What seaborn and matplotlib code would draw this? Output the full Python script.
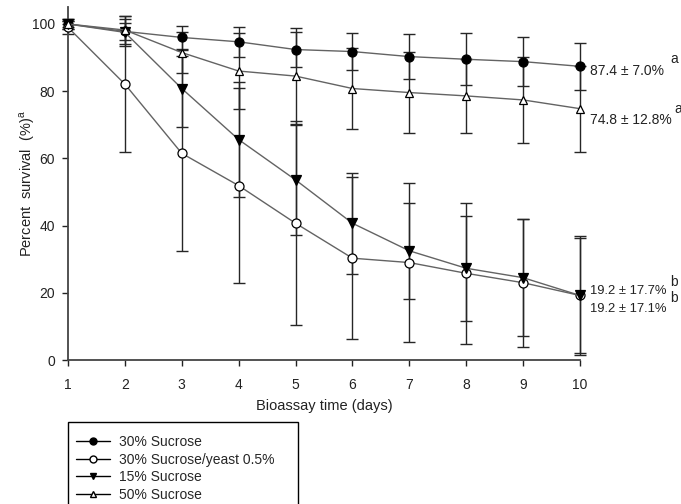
import matplotlib
matplotlib.use("Agg")
import matplotlib.pyplot as plt
from matplotlib.lines import Line2D
from matplotlib.patches import Rectangle
import seaborn as sns
import pandas as pd

days = [1, 2, 3, 4, 5, 6, 7, 8, 9, 10]

series_names = ["30% Sucrose", "30% Sucrose/yeast 0.5%", "15% Sucrose", "50% Sucrose"]

suc30 = [100.0, 97.8, 96.0, 94.7, 92.4, 91.8, 90.3, 89.5, 88.8, 87.4]
suc30_err = [1.0, 2.6, 3.5, 4.5, 5.3, 5.5, 6.8, 7.7, 7.2, 7.0]

yeast = [99.0, 82.1, 61.5, 51.9, 40.7, 30.3, 29.0, 25.8, 23.0, 19.2]
yeast_err = [2.0, 20.2, 29.1, 29.1, 30.3, 24.1, 23.7, 20.9, 19.0, 17.1]

suc15 = [100.0, 97.5, 80.8, 65.6, 53.6, 40.7, 32.5, 27.3, 24.5, 19.2]
suc15_err = [1.5, 4.0, 11.4, 17.0, 16.4, 15.1, 14.3, 15.7, 17.4, 17.7]

suc50 = [100.0, 98.2, 91.5, 86.0, 84.5, 80.8, 79.6, 78.6, 77.4, 74.8]
suc50_err = [1.4, 4.2, 6.0, 11.4, 14.4, 12.0, 12.1, 11.1, 12.9, 12.8]

end_labels = ["87.4 ± 7.0%", "74.8 ± 12.8%", "19.2 ± 17.7%", "19.2 ± 17.1%"]
end_letters = ["a", "a", "b", "b"]

y_ticks = [0, 20, 40, 60, 80, 100]

sns.set_style("ticks")
plt.rcParams["font.family"] = ["Liberation Sans", "DejaVu Sans"]
plt.rcParams["mathtext.fontset"] = "custom"
plt.rcParams["mathtext.rm"] = "Liberation Sans"

fig = plt.figure(figsize=(6.81, 5.04), dpi=100)
ax = fig.add_axes([68 / 681, 1 - 360 / 504, 512 / 681, (360 - 7.2) / 504])

values = [suc30, yeast, suc15, suc50]
errors = [suc30_err, yeast_err, suc15_err, suc50_err]
markers = ["o", "o", "v", "^"]
faces = ["black", "white", "black", "white"]
msizes = [6.5, 6.5, 6.5, 6.0]

rows = []
for name, vals in zip(series_names, values):
    for d, v in zip(days, vals):
        rows.append({"series": name, "day": d, "value": v})
df = pd.DataFrame(rows)

# error bars
for vals, errs in zip(values, errors):
    eb = ax.errorbar(days, vals, yerr=errs, fmt="none", ecolor="#262626",
                     elinewidth=1.0, capsize=4.5, capthick=1.0, zorder=2)
    for c in eb.get_children():
        c.set_clip_on(False)

for name, mk, fc, ms in zip(series_names, markers, faces, msizes):
    sub = df[df["series"] == name]
    sns.lineplot(data=sub, x="day", y="value", ax=ax, color="#636363",
                 linewidth=1.0, marker=mk, markersize=ms, markerfacecolor=fc,
                 markeredgecolor="black", markeredgewidth=0.9, zorder=3,
                 legend=False, clip_on=False)

ax.set_xlim(1, 10)
ax.set_ylim(0, 105)
ax.set_xticks(days)
ax.set_yticks(y_ticks)
ax.tick_params(axis="both", labelsize=10, length=4, width=1, colors="#222222",
               direction="out")
ax.tick_params(axis="x", pad=9)
ax.tick_params(axis="y", pad=5.5)
for s in ["left", "bottom"]:
    ax.spines[s].set_color("#444444")
    ax.spines[s].set_linewidth(1.3)
sns.despine(ax=ax)

ax.set_xlabel("Bioassay time (days)", fontsize=10.5, color="#222222", labelpad=5)
ax.set_ylabel(r"Percent  survival  (%)$^{\mathrm{a}}$", fontsize=10.5,
              color="#222222")
ax.yaxis.set_label_coords(-0.06, 0.5)

# end annotations
end_vals = [suc30[-1], suc50[-1], suc15[-1], yeast[-1]]
offsets_y = [-3.5, -8, 3, -9.5]
letter_y = [5, 0, 9.5, -2]
letter_x = [65, 68, 65, 65]
label_fs = [10, 10, 9.4, 9.4]
for lab, let, v, dy, ly, lx, fs in zip(end_labels, end_letters, end_vals, offsets_y,
                                       letter_y, letter_x, label_fs):
    ax.annotate(lab, xy=(10, v), xytext=(7, dy), textcoords="offset points",
                fontsize=fs, color="#222222", va="center", ha="left",
                annotation_clip=False)
    ax.annotate(let, xy=(10, v), xytext=(lx, ly), textcoords="offset points",
                fontsize=10, color="#222222", va="center", ha="left",
                annotation_clip=False)

handles = [
    Line2D([], [], color="black", lw=1.0, marker=mk, markersize=5,
           markerfacecolor=fc, markeredgecolor="black")
    for mk, fc in zip(markers, faces)
]
fig.legend(handles, series_names, loc="upper left",
           bbox_to_anchor=(68 / 681, 0, 230 / 681, 1 - 427 / 504),
           mode="expand", frameon=False, fontsize=10, handlelength=2.4,
           handletextpad=0.7, borderpad=0.6, labelspacing=0.25,
           borderaxespad=0)
fig.patches.append(Rectangle((68 / 681, -10 / 504), 230 / 681, (504 - 422 + 10) / 504,
                             transform=fig.transFigure, fill=False,
                             edgecolor="black", linewidth=1.0))

fig.savefig("out.png", dpi=100)
